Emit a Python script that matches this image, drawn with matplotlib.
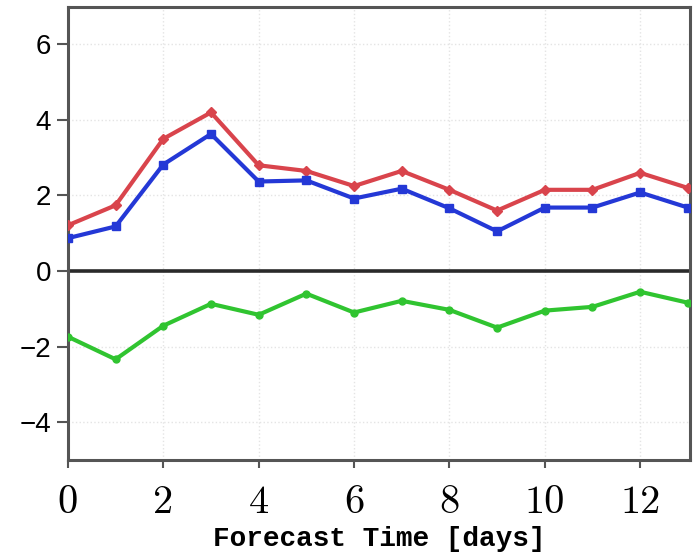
import numpy as np
import matplotlib
matplotlib.use("Agg")
import matplotlib.pyplot as plt

# --- data ---
days = list(range(14))
red_vals = [1.21, 1.74, 3.5, 4.2, 2.8, 2.65, 2.25, 2.65, 2.15, 1.6, 2.15, 2.15, 2.6, 2.2]
blue_vals = [0.87, 1.18, 2.82, 3.63, 2.37, 2.4, 1.92, 2.18, 1.66, 1.05, 1.68, 1.68, 2.08, 1.68]
green_vals = [-1.74, -2.34, -1.45, -0.87, -1.16, -0.6, -1.1, -0.79, -1.03, -1.5, -1.05, -0.95, -0.55, -0.84]
xticks = [0, 2, 4, 6, 8, 10, 12]
yticks = [-4, -2, 0, 2, 4, 6]

fig = plt.figure(figsize=(6.93, 5.6), dpi=100)
ax = fig.add_axes([0.098, 0.179, 0.898, 0.809])

# grid + zero line
ax.grid(True, color="#e4e4e4", linestyle=":", linewidth=1.0)
ax.axhline(0, color="#2a2a2a", linewidth=2.6, zorder=2)

ax.plot(days, red_vals, color="#d9444c", linewidth=3, marker="D", markersize=5, zorder=3)
ax.plot(days, blue_vals, color="#2438d6", linewidth=3, marker="s", markersize=6, zorder=4)
ax.plot(days, green_vals, color="#30c430", linewidth=3, marker="o", markersize=5, zorder=3)

ax.set_xlim(0, 13.05)
ax.set_ylim(-5, 7)
ax.set_xticks(xticks)
ax.set_yticks(yticks)

for s in ax.spines.values():
    s.set_color("#555555")
    s.set_linewidth(2.2)

ax.tick_params(axis="y", direction="out", length=8, width=1.5, color="#555555",
               labelsize=20, pad=4)
ax.tick_params(axis="x", direction="out", length=6, width=1.5, color="#555555",
               labelsize=29, pad=12)
for lab in ax.get_yticklabels():
    lab.set_family("Liberation Sans")
for lab in ax.get_xticklabels():
    lab.set_family("cmr10")

ax.set_xlabel("Forecast Time [days]", fontsize=20, fontweight="bold",
              family="Liberation Mono", labelpad=4)

fig.savefig("out.png", dpi=100)
